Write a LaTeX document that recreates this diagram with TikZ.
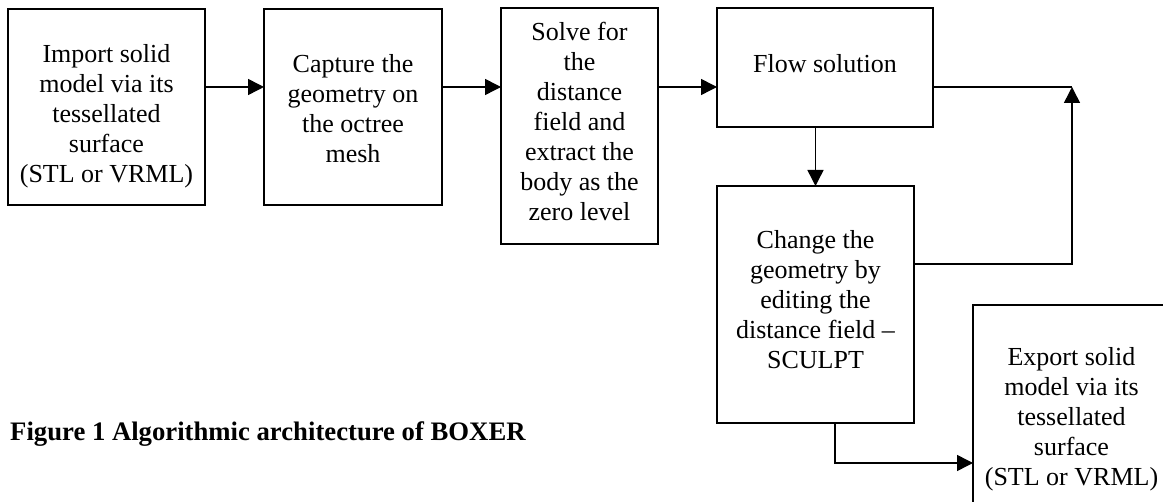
\documentclass[tikz,border=0pt]{standalone}
\usepackage{fontspec}
\setmainfont{Liberation Serif}
\usetikzlibrary{arrows.meta}
\begin{document}
\begin{tikzpicture}[x=1pt,y=-1pt,
  box/.style={draw, line width=1.5pt, inner sep=0pt, outer sep=0pt},
  txt/.style={align=center, inner sep=0pt, outer sep=0pt, anchor=north, font=\fontsize{26}{30}\selectfont},
  arr/.style={line width=1.5pt, -{Triangle[length=16pt,width=16pt]}},
  con/.style={line width=1.5pt}]
\clip (0,0) rectangle (1163,502);
\fill[white] (0,0) rectangle (1163,502);
% boxes
\node[box, minimum width=197pt, minimum height=196pt] (b1) at (106.5,107) {};
\node[box, minimum width=178pt, minimum height=196pt] (b2) at (353,107) {};
\node[box, minimum width=157pt, minimum height=236pt] (b3) at (579.5,126) {};
\node[box, minimum width=216pt, minimum height=119pt] (b4) at (825,67.5) {};
\node[box, minimum width=197pt, minimum height=237pt] (b5) at (815.5,304.5) {};
\node[box, minimum width=197pt, minimum height=222pt] (b6) at (1071.5,416) {};
% texts
\node[txt] (t1) at (106.5,44.2) {Import solid\\model via its\\tessellated\\surface\\(STL or VRML)};
\node[txt] (t2) at (353,54.2) {Capture the\\geometry on\\the octree\\mesh};
\node[txt] (t3) at (579.5,22.2) {Solve for\\the\\distance\\field and\\extract the\\body as the\\zero level};
\node[txt] (t4) at (825,54.2) {Flow solution};
\node[txt] (t5) at (815.5,230.2) {Change the\\geometry by\\editing the\\distance field --\\SCULPT};
\node[txt] (t6) at (1071.5,347.2) {Export solid\\model via its\\tessellated\\surface\\(STL or VRML)};
% caption
\node[anchor=base west, inner sep=0pt, font=\fontsize{26.7}{30}\selectfont\bfseries] (cap) at (10,441) {Figure 1 Algorithmic architecture of BOXER};
% helper coordinates
\coordinate (row) at (0,87);
\coordinate (corner) at (1072,87);
\coordinate (fb) at (1072,264);
\coordinate (dn) at (835,463);
% connectors
\draw[arr] (b1.east |- row) -- (b2.west |- row);
\draw[arr] (b2.east |- row) -- (b3.west |- row);
\draw[arr] (b3.east |- row) -- (b4.west |- row);
\draw[arr] (b5.north |- b4.south) -- (b5.north);
\draw[con] (b4.east |- row) -- (corner);
\draw[arr] (b5.east |- fb) -- (fb) -- (corner);
\draw[arr] (b5.south -| dn) -- (dn) -- (b6.west |- dn);
\end{tikzpicture}
\end{document}
